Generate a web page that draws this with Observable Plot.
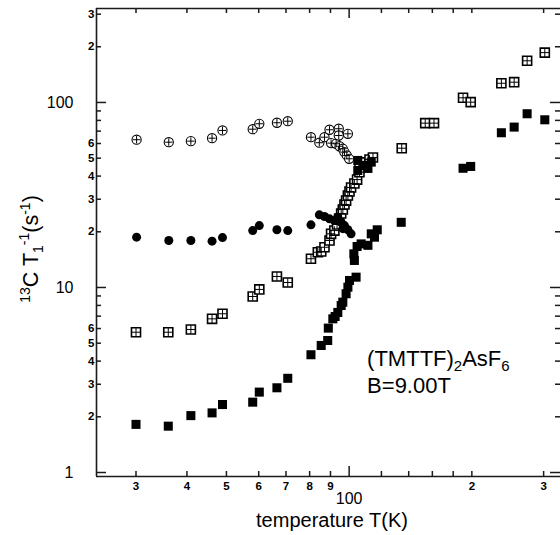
<!DOCTYPE html>
<html><head><meta charset="utf-8">
<script src="https://cdn.jsdelivr.net/npm/d3@7"></script>
<script src="https://cdn.jsdelivr.net/npm/@observablehq/plot@0.6"></script>
<style>body{margin:0;background:#fff} svg{display:block}</style>
</head><body><div id="chart"></div>
<script>
// ---- data (temperature in K, 13C T1^-1 in s^-1) ----
const circPlusT = [30.1, 36.1, 40.9, 46.1, 48.9, 58.0, 60.2, 66.5, 70.7, 80.6, 84.5, 87.0, 89.5, 90.3, 92.9, 94.3, 94.3, 94.7, 96.5, 97.4, 98.7, 99.3, 100.0];
const circPlusV = [62.9, 61.0, 61.8, 64.1, 70.6, 71.7, 76.7, 77.7, 79.2, 64.9, 60.6, 64.9, 71.2, 60.3, 59.8, 72.1, 66.3, 58.0, 56.2, 53.9, 51.7, 67.7, 49.6];

const dotT = [30.1, 36.1, 40.9, 46.1, 48.9, 58.0, 60.2, 66.5, 70.7, 80.6, 84.5, 87.0, 89.5, 92.0, 93.8, 95.6, 96.5, 97.4, 99.3, 101.1];
const dotV = [18.7, 17.95, 17.95, 17.8, 18.6, 20.3, 21.6, 20.5, 20.3, 21.8, 24.7, 24.2, 23.5, 23.0, 24.0, 22.5, 20.8, 21.6, 20.5, 19.5];

const sqPlusT = [30.0, 36.0, 40.9, 46.1, 48.9, 58.0, 60.2, 66.5, 70.7, 80.6, 83.8, 85.4, 87.0, 89.5, 90.3, 92.0, 93.4, 94.5, 95.6, 96.5, 97.4, 98.3, 99.3, 100.2, 101.1, 103.0, 104.6, 106.0, 106.0, 109.0, 112.2, 114.4, 134.6, 153.7, 161.5, 190.3, 198.7, 236.3, 254, 273.3, 302];
const sqPlusV = [5.73, 5.73, 5.93, 6.77, 7.21, 8.94, 9.76, 11.47, 10.64, 14.3, 15.5, 15.65, 16.5, 17.95, 19.5, 20.3, 21.9, 23.6, 25.1, 26.4, 28.1, 29.5, 31.4, 33.0, 34.7, 36.5, 38.3, 42.0, 47.4, 47.4, 49.2, 50.4, 56.6, 77.3, 77.3, 106, 100.4, 127, 128.7, 168, 186];

const sqT = [30.0, 36.0, 40.9, 46.1, 48.9, 58.0, 60.2, 66.5, 70.7, 80.6, 85.4, 88.6, 88.9, 91.2, 92.4, 93.8, 95.6, 96.5, 98.3, 99.3, 100.2, 104.0, 103.0, 102.7, 104.6, 107.0, 111.2, 113.3, 115.4, 117.2, 134.2, 105.0, 105.0, 108.1, 111.2, 113.3, 190.3, 198.7, 236.3, 254, 273.3, 302];
const sqV = [1.82, 1.78, 2.03, 2.10, 2.33, 2.40, 2.72, 2.87, 3.23, 4.33, 4.86, 5.17, 6.03, 6.77, 6.97, 7.33, 7.99, 8.33, 9.25, 10.04, 10.91, 11.37, 14.0, 15.2, 16.65, 17.2, 16.9, 19.5, 18.7, 20.5, 22.5, 42.9, 48.6, 45.65, 44.0, 47.6, 44.1, 45.1, 68.6, 73.6, 86.9, 80.6];

// ---- axes ----
const xDomain = [24.0, 330];
const yDomain = [0.9515, 322];
const xMinorTicks = [30, 40, 50, 60, 70, 80, 90, 120, 140, 160, 180, 200, 300];
const xLabeled = [30, 40, 50, 60, 70, 80, 90, 200, 300];
const xTickLabels = ["3", "4", "5", "6", "7", "8", "9", "2", "3"];
const xMajor = [100];
const xMajorLabels = ["100"];
const yMinorTicks = [2, 3, 4, 5, 6, 7, 8, 9, 20, 30, 40, 50, 60, 70, 80, 90, 200, 300];
const yLabeled = [2, 3, 4, 5, 6, 20, 30, 40, 50, 60, 200, 300];
const yTickLabels = ["2", "3", "4", "5", "6", "2", "3", "4", "5", "6", "2", "3"];
const yMajor = [1, 10, 100];
const yMajorLabels = ["1", "10", "100"];

const xTitle = "temperature T(K)";
const annoT = 111, annoV1 = 3.74, annoV2 = 2.67;

// ---- layout ----
const W = 560, H = 535;
const mL = 96, mR = 0, mT = 8, mB = 59;
const pW = W - mL - mR, pH = H - mT - mB;
const FONT = "'Liberation Sans', Arial, Helvetica, sans-serif";
const AX = "#1a1a1a";

const zip = (T, V) => T.map((t, i) => ({T: t, v: V[i]}));
const circPlus = zip(circPlusT, circPlusV);
const dots = zip(dotT, dotV);
const sqPlus = zip(sqPlusT, sqPlusV);
const sqs = zip(sqT, sqV);

const plot = Plot.plot({
  width: W, height: H,
  marginLeft: mL, marginRight: mR, marginTop: mT, marginBottom: mB,
  style: {fontFamily: FONT, background: "white", color: "black", overflow: "visible"},
  x: {type: "log", domain: xDomain, axis: null},
  y: {type: "log", domain: yDomain, axis: null},
  marks: [
    // frame lines
    Plot.ruleX([xDomain[0]], {stroke: AX, strokeWidth: 1.6}),
    Plot.ruleY([yDomain[0]], {stroke: AX, strokeWidth: 1.6}),
    Plot.ruleY([yDomain[1]], {stroke: AX, strokeWidth: 1.6}),
    // inward ticks bottom / top
    Plot.tickX(xMinorTicks, {x: d => d, insetTop: pH - 5, stroke: AX, strokeWidth: 1.5}),
    Plot.tickX(xMinorTicks, {x: d => d, insetBottom: pH - 5, stroke: AX, strokeWidth: 1.5}),
    Plot.tickX(xMajor, {x: d => d, insetTop: pH - 10, stroke: AX, strokeWidth: 1.5}),
    Plot.tickX(xMajor, {x: d => d, insetBottom: pH - 10, stroke: AX, strokeWidth: 1.5}),
    // inward ticks left / right
    Plot.tickY(yMinorTicks, {y: d => d, insetRight: pW - 5, stroke: AX, strokeWidth: 1.5}),
    Plot.tickY(yMinorTicks, {y: d => d, insetLeft: pW - 5, stroke: AX, strokeWidth: 1.5}),
    Plot.tickY(yMajor, {y: d => d, insetRight: pW - 10, stroke: AX, strokeWidth: 1.5}),
    Plot.tickY(yMajor, {y: d => d, insetLeft: pW - 10, stroke: AX, strokeWidth: 1.5}),
    // tick labels
    Plot.text(xLabeled, {x: d => d, text: (d, i) => xTickLabels[i], frameAnchor: "bottom", lineAnchor: "top",
      dy: 5, fontSize: 11.5, fontWeight: "bold", fill: "black"}),
    Plot.text(xMajor, {x: d => d, text: (d, i) => xMajorLabels[i], frameAnchor: "bottom", lineAnchor: "top",
      dy: 16, fontSize: 16, fill: "black"}),
    Plot.text(yLabeled, {y: d => d, text: (d, i) => yTickLabels[i], frameAnchor: "left", textAnchor: "end",
      dx: -2, fontSize: 11.5, fontWeight: "bold", fill: "black"}),
    Plot.text(yMajor, {y: d => d, text: (d, i) => yMajorLabels[i], frameAnchor: "left", textAnchor: "end",
      dx: -23, fontSize: 16, fill: "black"}),
    // data
    Plot.dot(sqPlus, {x: "T", y: "v", symbol: "square", r: 5.1, fill: "white", stroke: "black", strokeWidth: 1.6}),
    Plot.dot(sqPlus, {x: "T", y: "v", symbol: "plus", r: 2.9, stroke: "black", strokeWidth: 1}),
    Plot.dot(circPlus, {x: "T", y: "v", r: 4.6, fill: "white", stroke: "black", strokeWidth: 1.1}),
    Plot.dot(circPlus, {x: "T", y: "v", symbol: "plus", r: 2.5, stroke: "black", strokeWidth: 1}),
    Plot.dot(dots, {x: "T", y: "v", r: 4.5, fill: "black", stroke: "none"}),
    Plot.dot(sqs, {x: "T", y: "v", symbol: "square", r: 5.1, fill: "black", stroke: "none"})
  ]
});

document.getElementById("chart").appendChild(plot);
const svgEl = plot.tagName.toLowerCase() === "svg" ? plot : plot.querySelector("svg");
const svg = d3.select(svgEl);
const xs = plot.scale("x"), ys = plot.scale("y");

// y-axis title with super/subscripts
const yl = svg.append("text")
  .attr("transform", `translate(38,249) rotate(-90)`)
  .attr("text-anchor", "middle").attr("font-size", 21.5)
  .attr("font-family", FONT).attr("fill", "black");
yl.append("tspan").attr("font-size", 14).attr("dy", -8).text("13");
yl.append("tspan").attr("dy", 8).text("C T");
yl.append("tspan").attr("font-size", 14).attr("dy", 5).text("1");
yl.append("tspan").attr("font-size", 14).attr("dy", -14).text("-1");
yl.append("tspan").attr("dy", 9).text("(s");
yl.append("tspan").attr("font-size", 14).attr("dy", -8).text("-1");
yl.append("tspan").attr("dy", 8).text(")");

// x-axis title
svg.append("text")
  .attr("x", 332).attr("y", 527)
  .attr("text-anchor", "middle").attr("font-size", 20)
  .attr("font-family", FONT).attr("fill", "black")
  .text(xTitle);

// annotation
const a1 = svg.append("text")
  .attr("x", xs.apply(annoT)).attr("y", ys.apply(annoV1))
  .attr("text-anchor", "start")
  .attr("font-size", 22).attr("font-family", FONT).attr("fill", "black");
a1.append("tspan").text("(TMTTF)");
a1.append("tspan").attr("font-size", 15).attr("dy", 5).text("2");
a1.append("tspan").attr("dy", -5).text("AsF");
a1.append("tspan").attr("font-size", 15).attr("dy", 5).text("6");
svg.append("text")
  .attr("x", xs.apply(annoT)).attr("y", ys.apply(annoV2))
  .attr("text-anchor", "start")
  .attr("font-size", 22).attr("font-family", FONT).attr("fill", "black")
  .text("B=9.00T");
</script>
</body></html>
